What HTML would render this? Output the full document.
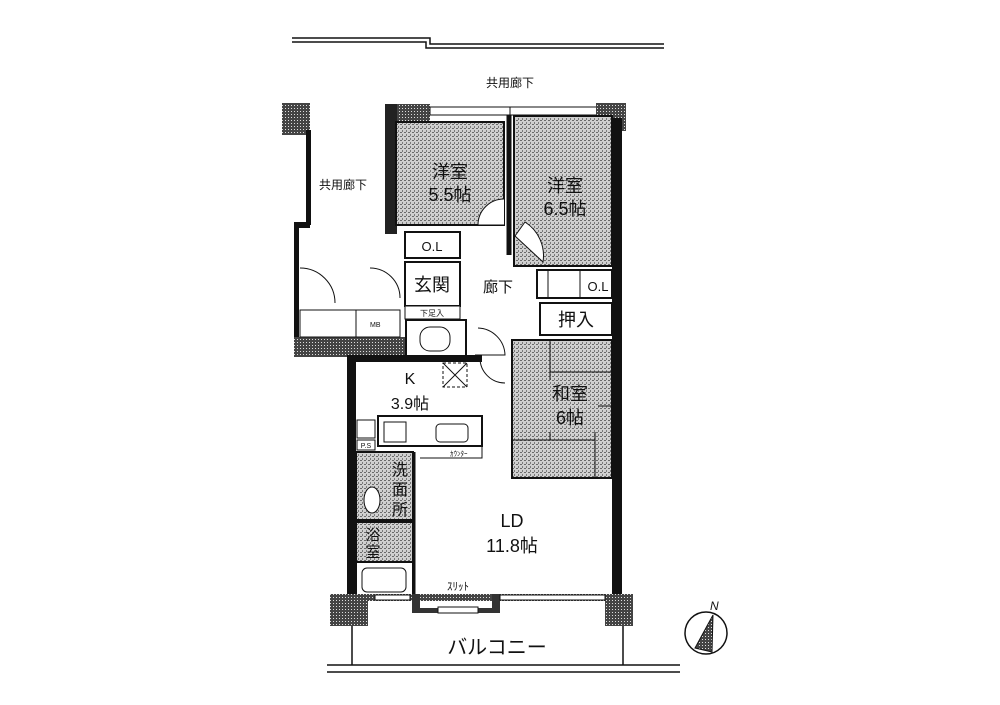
<!DOCTYPE html>
<html><head><meta charset="utf-8"><style>
html,body{margin:0;padding:0;background:#fff}
svg{display:block}
text{font-family:"Liberation Sans","Noto Sans CJK JP",sans-serif;fill:#111}
</style></head><body>
<svg width="1000" height="705" viewBox="0 0 1000 705" xmlns="http://www.w3.org/2000/svg">
<defs>
<pattern id="h" width="4" height="4" patternUnits="userSpaceOnUse">
<rect width="4" height="4" fill="#cfcfcf"/><rect width="2" height="1" fill="#6a6a6a"/><rect x="2" y="2" width="1" height="2" fill="#7a7a7a"/>
</pattern>
<pattern id="d" width="3" height="3" patternUnits="userSpaceOnUse">
<rect width="3" height="3" fill="#444"/><rect width="1" height="1" fill="#ddd"/>
</pattern>
</defs>
<g stroke="#111" fill="none" stroke-width="1.5">
<polyline points="292,38 430,38 430,44 664,44"/>
<polyline points="292,42 426,42 426,48 664,48"/>
<line x1="327" y1="665" x2="680" y2="665"/>
<line x1="327" y1="672" x2="680" y2="672"/>
<line x1="352" y1="620" x2="352" y2="665"/>
<line x1="623" y1="620" x2="623" y2="665"/>
</g>
<text x="510" y="87" font-size="12" text-anchor="middle">共用廊下</text>
<rect x="282" y="103" width="28" height="32" fill="url(#d)"/>
<rect x="306" y="130" width="5" height="95" fill="#111"/>
<rect x="294" y="222" width="16" height="6" fill="#111"/>
<rect x="294" y="222" width="5" height="135" fill="#111"/>
<rect x="294" y="337" width="112" height="20" fill="url(#d)"/>
<rect x="300" y="310" width="100" height="27" fill="none" stroke="#111"/>
<line x1="356" y1="310" x2="356" y2="337" stroke="#111"/>
<text x="370" y="327" font-size="7">MB</text>
<path d="M300 268 A35 35 0 0 1 335 303 M370 268 A30 30 0 0 1 400 298" fill="none" stroke="#111"/>
<text x="343" y="189" font-size="12" text-anchor="middle">共用廊下</text>
<rect x="385" y="104" width="45" height="18" fill="url(#d)"/>
<rect x="385" y="104" width="12" height="130" fill="#222"/>
<rect x="430" y="107" width="80" height="8" fill="#fff" stroke="#111"/>
<rect x="510" y="107" width="90" height="8" fill="#fff" stroke="#111"/>
<rect x="596" y="103" width="30" height="28" fill="url(#d)"/>
<rect x="612" y="118" width="10" height="485" fill="#111"/>
<rect x="347" y="355" width="9" height="245" fill="#111"/>
<rect x="396" y="122" width="108" height="103" fill="url(#h)" stroke="#111" stroke-width="2"/>
<rect x="514" y="116" width="98" height="150" fill="url(#h)" stroke="#111" stroke-width="2"/>
<line x1="509" y1="115" x2="509" y2="255" stroke="#111" stroke-width="5"/>
<text x="450" y="178" font-size="18" text-anchor="middle">洋室</text>
<text x="450" y="201" font-size="18" text-anchor="middle">5.5帖</text>
<text x="565" y="192" font-size="18" text-anchor="middle">洋室</text>
<text x="565" y="215" font-size="18" text-anchor="middle">6.5帖</text>
<path d="M504 225 L478 225 A26 26 0 0 1 504 199" fill="#fff" stroke="#111"/>
<path d="M515 236 L543 262 A40 40 0 0 0 525 222 Z" fill="#fff" stroke="#111"/>
<rect x="405" y="232" width="55" height="26" fill="#fff" stroke="#111" stroke-width="2"/>
<text x="432" y="251" font-size="13" text-anchor="middle">O.L</text>
<rect x="405" y="262" width="55" height="44" fill="#fff" stroke="#111" stroke-width="2"/>
<text x="432" y="291" font-size="18" text-anchor="middle">玄関</text>
<rect x="405" y="306" width="55" height="13" fill="#fff" stroke="#111"/>
<text x="432" y="316" font-size="8" text-anchor="middle">下足入</text>
<rect x="406" y="320" width="60" height="36" fill="#fff" stroke="#111" stroke-width="2"/>
<rect x="420" y="327" width="30" height="24" rx="10" fill="#fff" stroke="#111"/>
<text x="498" y="292" font-size="15" text-anchor="middle">廊下</text>
<path d="M475 355 L505 355 A28 28 0 0 0 478 328" fill="none" stroke="#111"/>
<path d="M480 358 A25 25 0 0 0 505 383" fill="none" stroke="#111"/>
<rect x="537" y="270" width="75" height="28" fill="#fff" stroke="#111" stroke-width="2"/>
<line x1="548" y1="270" x2="548" y2="298" stroke="#111"/>
<line x1="580" y1="270" x2="580" y2="298" stroke="#111"/>
<text x="598" y="291" font-size="13" text-anchor="middle">O.L</text>
<rect x="540" y="303" width="72" height="32" fill="#fff" stroke="#111" stroke-width="2"/>
<text x="576" y="326" font-size="18" text-anchor="middle">押入</text>
<rect x="512" y="340" width="100" height="138" fill="url(#h)" stroke="#111" stroke-width="2"/>
<line x1="512" y1="440" x2="595" y2="440" stroke="#111"/>
<line x1="550" y1="340" x2="550" y2="440" stroke="#111"/>
<line x1="550" y1="372" x2="612" y2="372" stroke="#111"/>
<line x1="595" y1="406" x2="612" y2="406" stroke="#111"/>
<line x1="595" y1="406" x2="595" y2="478" stroke="#111"/>
<rect x="548" y="380" width="50" height="52" fill="url(#h)"/>
<text x="570" y="400" font-size="18" text-anchor="middle">和室</text>
<text x="570" y="424" font-size="18" text-anchor="middle">6帖</text>
<rect x="347" y="355" width="135" height="7" fill="#111"/>
<rect x="443" y="363" width="24" height="24" fill="#fff" stroke="#111" stroke-dasharray="3,2"/>
<path d="M443 363 L467 387 M467 363 L443 387" stroke="#111"/>
<text x="410" y="384" font-size="16" text-anchor="middle">K</text>
<text x="410" y="409" font-size="16" text-anchor="middle">3.9帖</text>
<rect x="378" y="416" width="104" height="30" fill="#fff" stroke="#111" stroke-width="2"/>
<rect x="384" y="422" width="22" height="20" fill="#fff" stroke="#111"/>
<rect x="436" y="424" width="32" height="18" rx="4" fill="#fff" stroke="#111"/>
<path d="M470 446 L482 446 L482 458 L420 458" fill="none" stroke="#111"/>
<text x="450" y="456" font-size="7">ｶｳﾝﾀｰ</text>
<rect x="357" y="420" width="18" height="18" fill="#fff" stroke="#111"/>
<rect x="357" y="440" width="18" height="10" fill="#fff" stroke="#111"/>
<text x="366" y="448" font-size="7" text-anchor="middle">P.S</text>
<rect x="356" y="452" width="57" height="68" fill="url(#h)" stroke="#111" stroke-width="2"/>
<ellipse cx="372" cy="500" rx="8" ry="13" fill="#fff" stroke="#111"/>
<text x="400" y="475" font-size="16" text-anchor="middle">洗</text>
<text x="400" y="495" font-size="16" text-anchor="middle">面</text>
<text x="400" y="515" font-size="16" text-anchor="middle">所</text>
<rect x="356" y="522" width="57" height="40" fill="url(#h)" stroke="#111" stroke-width="2"/>
<text x="373" y="540" font-size="15" text-anchor="middle">浴</text>
<text x="373" y="557" font-size="15" text-anchor="middle">室</text>
<rect x="356" y="562" width="57" height="35" fill="#fff" stroke="#111" stroke-width="2"/>
<rect x="362" y="568" width="44" height="24" rx="5" fill="#fff" stroke="#111"/>
<line x1="414" y1="452" x2="414" y2="597" stroke="#111" stroke-width="3"/>
<text x="512" y="527" font-size="18" text-anchor="middle">LD</text>
<text x="512" y="552" font-size="18" text-anchor="middle">11.8帖</text>
<text x="458" y="590" font-size="11" text-anchor="middle">ｽﾘｯﾄ</text>
<rect x="330" y="594" width="290" height="7" fill="url(#d)"/>
<rect x="330" y="594" width="38" height="32" fill="url(#d)"/>
<rect x="605" y="594" width="28" height="32" fill="url(#d)"/>
<rect x="412" y="594" width="8" height="18" fill="#333"/>
<rect x="492" y="594" width="8" height="18" fill="#333"/>
<rect x="412" y="608" width="88" height="5" fill="#333"/>
<rect x="438" y="607" width="40" height="6" fill="#fff" stroke="#111"/>
<rect x="500" y="595" width="105" height="5" fill="#fff" stroke="#111"/>
<rect x="375" y="595" width="35" height="5" fill="#fff" stroke="#111"/>
<text x="497" y="654" font-size="20" text-anchor="middle">バルコニー</text>
<circle cx="706" cy="633" r="21" fill="none" stroke="#111" stroke-width="1.5"/>
<path d="M713 615 L695 648 L712 652 Z" fill="url(#d)" stroke="#111"/>
<text x="710" y="610" font-size="12" font-style="italic">N</text>
</svg>
</body></html>
